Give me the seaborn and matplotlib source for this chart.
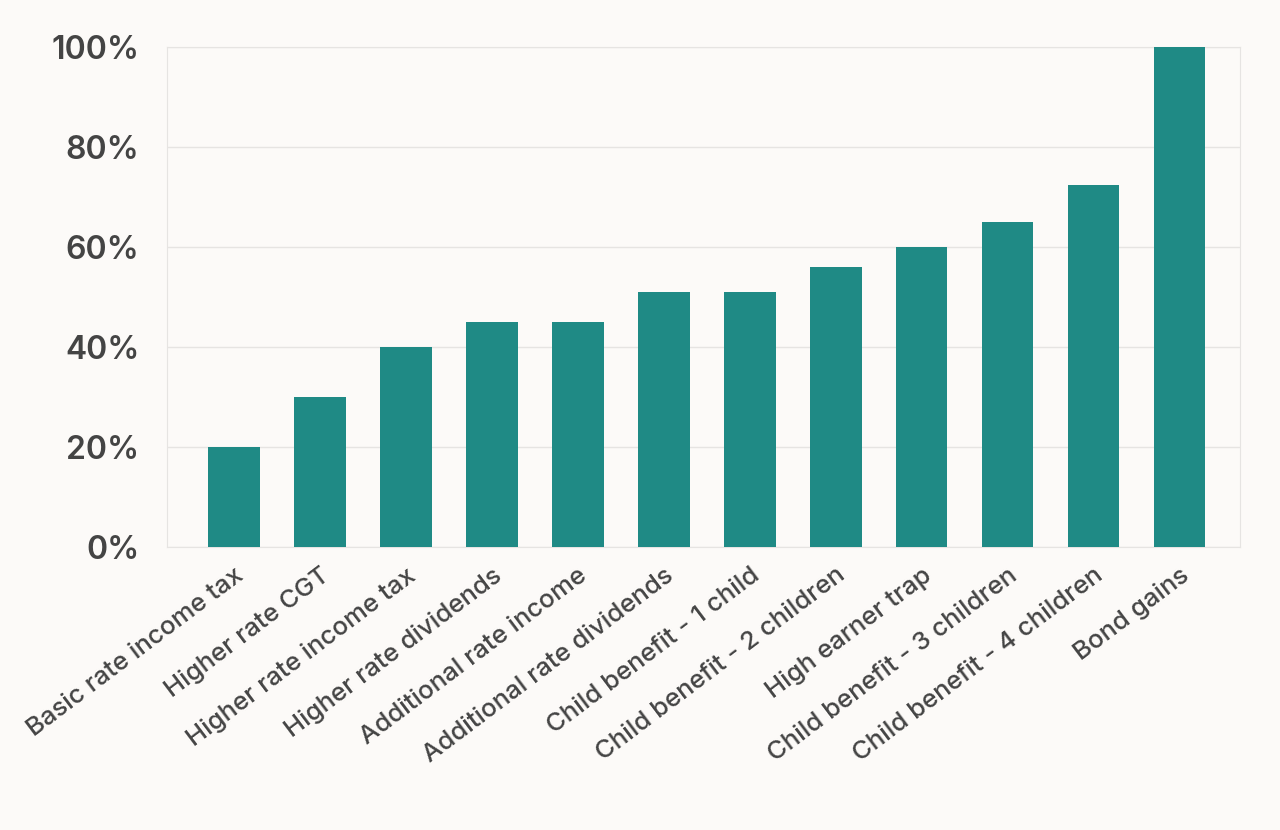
import matplotlib
matplotlib.use("Agg")
import matplotlib.pyplot as plt
import seaborn as sns
import pandas as pd

# --- Data ---
categories = [
    "Basic rate income tax", "Higher rate CGT", "Higher rate income tax",
    "Higher rate dividends", "Additional rate income", "Additional rate dividends",
    "Child benefit - 1 child", "Child benefit - 2 children", "High earner trap",
    "Child benefit - 3 children", "Child benefit - 4 children", "Bond gains",
]
rates = [20, 30, 40, 45, 45, 51, 51, 56, 60, 65, 72.5, 100]
y_ticks = [0, 20, 40, 60, 80, 100]

df = pd.DataFrame({"Category": categories, "Rate": rates})

bg = "#fcfaf8"
fig = plt.figure(figsize=(12.8, 8.3), dpi=100, facecolor=bg)
ax = fig.add_axes([0.1305, 0.341, 0.838, 0.602], facecolor=bg)

sns.barplot(data=df, x="Category", y="Rate", color="#1f8a85", width=0.6,
            saturation=1, ax=ax, zorder=3)

ax.set_ylim(0, 100)
ax.set_xlim(-0.78, 11.7)
ax.set_yticks(y_ticks)
ax.set_yticklabels([f"{t}%" for t in y_ticks], fontsize=23, color="#444444",
                   fontfamily="Inter", fontweight="semibold")
ax.set_xticks(range(len(categories)))
ax.set_xticklabels(categories, rotation=37, ha="right", rotation_mode="anchor",
                   fontsize=18.5, color="#444444", fontfamily="Inter",
                   fontweight="medium")
ax.tick_params(axis="y", length=0, pad=20)
ax.tick_params(axis="x", length=0, pad=12)
ax.set_xlabel("")
ax.set_ylabel("")
ax.grid(axis="y", color="#e6e4e2", linewidth=1, zorder=0)
for s in ax.spines.values():
    s.set_color("#e6e4e2")

fig.savefig("out.png", facecolor=bg)
